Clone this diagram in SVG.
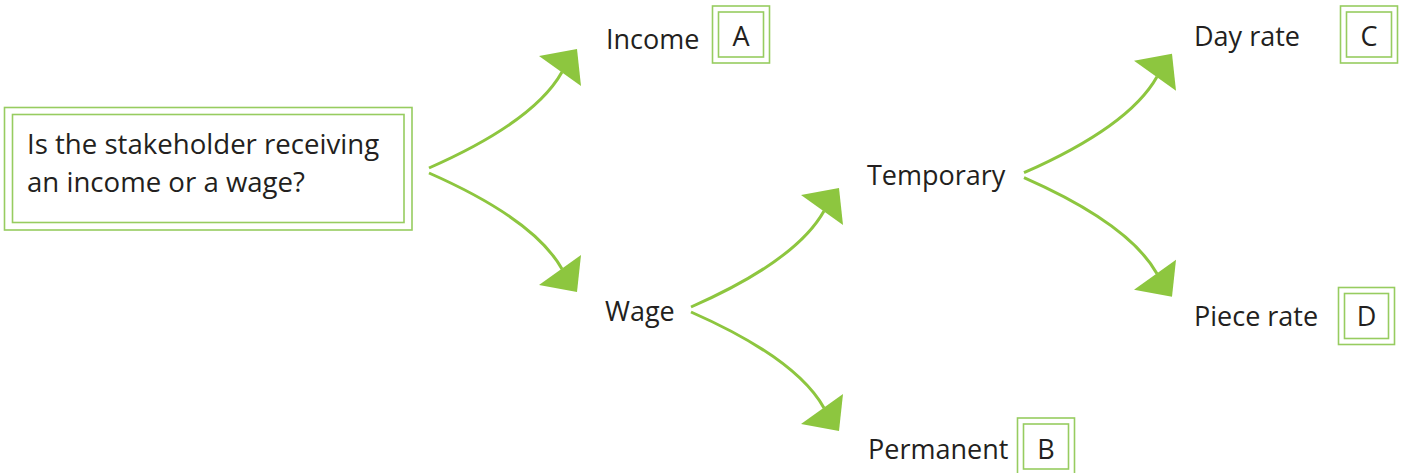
<svg xmlns="http://www.w3.org/2000/svg" xmlns:xlink="http://www.w3.org/1999/xlink" width="1404" height="473" viewBox="0 0 1404 473">
<style>
.box{fill:none;stroke:#97cc60;stroke-width:1.6}
.t{font-family:"Open Sans","Noto Sans","Liberation Sans",sans-serif;font-size:27px;fill:#231f20}
.q{font-size:27.6px}
.c{text-anchor:middle}
.ln{fill:none;stroke:#8dc63f;stroke-width:3}
.ah{fill:#8dc63f}
</style>
<defs>
<g id="fork">
<path class="ln" d="M0,0 C50,-22 110,-55 133,-96"/>
<polygon class="ah" points="110,-112 148,-119 152,-82"/>
<path class="ln" d="M0,5 C50,27 110,60 133,101"/>
<polygon class="ah" points="110,117 148,124 152,87"/>
</g>
</defs>
<rect width="1404" height="473" fill="#ffffff"/>
<g id="connectors">
<use xlink:href="#fork" transform="translate(429,168)"/>
<use xlink:href="#fork" transform="translate(691,307)"/>
<use xlink:href="#fork" transform="translate(1024,172.7)"/>
</g>
<g id="question">
<rect class="box" x="4.5" y="107.5" width="407.5" height="122.5"/>
<rect class="box" x="12.5" y="114.5" width="391.5" height="108"/>
<text class="t q" x="27" y="154">Is the stakeholder receiving</text>
<text class="t q" x="27" y="192">an income or a wage?</text>
</g>
<g id="income">
<text class="t" x="606" y="49">Income</text>
<rect class="box" x="712.5" y="6" width="57" height="57"/>
<rect class="box" x="718.5" y="12" width="45" height="45"/>
<text class="t c" x="741" y="46">A</text>
</g>
<g id="wage">
<text class="t" x="605" y="321">Wage</text>
</g>
<g id="temporary">
<text class="t" x="867" y="185">Temporary</text>
</g>
<g id="permanent">
<text class="t" x="868" y="459">Permanent</text>
<rect class="box" x="1017.5" y="418" width="57" height="57"/>
<rect class="box" x="1023.5" y="424" width="45" height="45"/>
<text class="t c" x="1046" y="459">B</text>
</g>
<g id="dayrate">
<text class="t" x="1194" y="46">Day rate</text>
<rect class="box" x="1340.5" y="6" width="57" height="57"/>
<rect class="box" x="1346.5" y="12" width="45" height="45"/>
<text class="t c" x="1369" y="46">C</text>
</g>
<g id="piecerate">
<text class="t" x="1194" y="326">Piece rate</text>
<rect class="box" x="1338.5" y="287.5" width="56" height="57"/>
<rect class="box" x="1344.5" y="293.5" width="44" height="45"/>
<text class="t c" x="1366.5" y="326">D</text>
</g>
</svg>
